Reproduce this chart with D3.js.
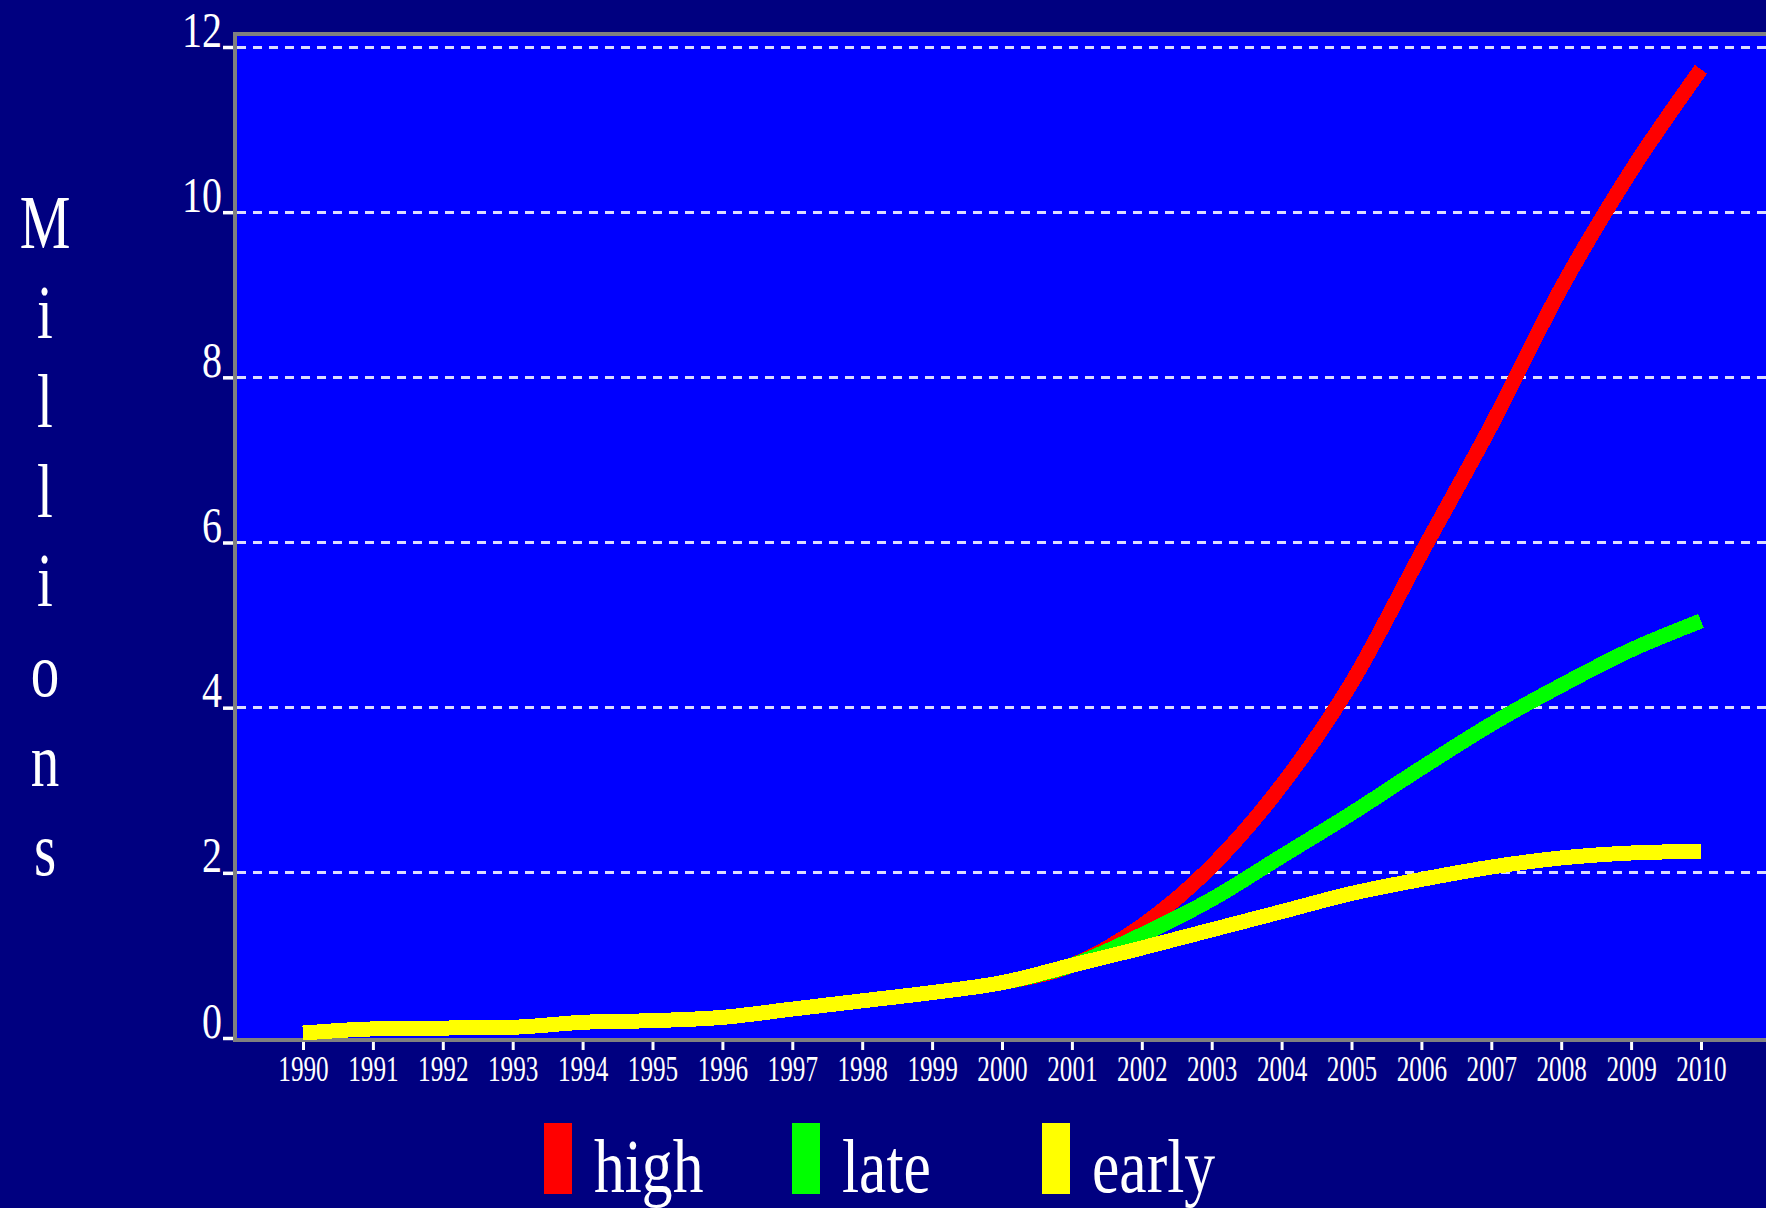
<!DOCTYPE html>
<html>
<head>
<meta charset="utf-8">
<script src="https://cdn.jsdelivr.net/npm/d3@7"></script>
<style>
  html, body { margin: 0; padding: 0; background: #000080; }
  svg { display: block; }
  text { font-family: "Liberation Serif", "Times New Roman", serif; fill: #ffffff; }
</style>
</head>
<body>
<svg id="chart" width="1766" height="1208"></svg>
<script>
// Years on the horizontal axis
const years = [1990, 1991, 1992, 1993, 1994, 1995, 1996, 1997, 1998, 1999, 2000,
               2001, 2002, 2003, 2004, 2005, 2006, 2007, 2008, 2009, 2010];

// Scenario values, millions
const high  = [0.06, 0.11, 0.12, 0.13, 0.19, 0.21, 0.25, 0.35, 0.45, 0.55, 0.67,
               0.88, 1.36, 2.08, 3.06, 4.30, 5.87, 7.42, 9.08, 10.50, 11.73];
const late  = [0.06, 0.11, 0.12, 0.13, 0.19, 0.21, 0.25, 0.35, 0.45, 0.55, 0.67,
               0.88, 1.25, 1.68, 2.20, 2.72, 3.27, 3.80, 4.27, 4.70, 5.05];
const early = [0.06, 0.11, 0.12, 0.13, 0.19, 0.21, 0.25, 0.35, 0.45, 0.55, 0.67,
               0.88, 1.09, 1.31, 1.53, 1.75, 1.92, 2.07, 2.18, 2.24, 2.26];

// Vertical axis ticks
const yTicks = [0, 2, 4, 6, 8, 10, 12];

// Series names and colours (drawn in this order, last on top)
const seriesNames  = ["high", "late", "early"];
const seriesColors = ["#ff0000", "#00ff00", "#ffff00"];
const seriesValues = [high, late, early];

const yTitle = "Millions";

const svg = d3.select("#chart");
const W = 1766, H = 1208;

// Plot frame geometry
const plot = { left: 235, top: 34, right: W, bottom: 1040 };

const x = d3.scaleLinear().domain([1990, 2010]).range([303, 1701]);
const y = d3.scaleLinear().domain([0, 12]).range([1038, 47]);

// Background
svg.append("rect").attr("width", W).attr("height", H).attr("fill", "#000080");
svg.append("rect")
  .attr("x", plot.left).attr("y", plot.top)
  .attr("width", plot.right - plot.left).attr("height", plot.bottom - plot.top)
  .attr("fill", "#0000ff");

// Dashed horizontal gridlines
svg.append("g")
  .selectAll("line")
  .data(yTicks.filter(d => d > 0))
  .join("line")
  .attr("x1", plot.left + 2).attr("x2", plot.right)
  .attr("y1", d => y(d)).attr("y2", d => y(d))
  .attr("stroke", "#dcdcff")
  .attr("stroke-width", 3)
  .attr("stroke-dasharray", "9,7")
  .attr("shape-rendering", "crispEdges");

// Frame: top, left and bottom edges in grey
const frame = svg.append("g").attr("fill", "none").attr("stroke", "#808080").attr("stroke-width", 4);
frame.append("line").attr("x1", plot.left - 2).attr("x2", plot.right).attr("y1", plot.top).attr("y2", plot.top);
frame.append("line").attr("x1", plot.left).attr("x2", plot.left).attr("y1", plot.top - 2).attr("y2", plot.bottom + 2);
frame.append("line").attr("x1", plot.left - 2).attr("x2", plot.right).attr("y1", plot.bottom).attr("y2", plot.bottom);

// X axis: ticks and year labels
const xAxis = svg.append("g")
  .attr("transform", `translate(0,${plot.bottom + 2})`)
  .call(d3.axisBottom(x).tickValues(years).tickSize(8).tickFormat(d3.format("d")));
xAxis.select(".domain").remove();
xAxis.selectAll(".tick line").attr("stroke", "#ffffff").attr("stroke-width", 3);
xAxis.selectAll(".tick text")
  .attr("y", 0).attr("dy", 0)
  .attr("fill", "#ffffff")
  .attr("font-size", 35)
  .attr("transform", "translate(0,39) scale(0.72,1)");

// Y axis: ticks and labels
const yAxis = svg.append("g")
  .attr("transform", `translate(${plot.left - 2},0)`)
  .call(d3.axisLeft(y).tickValues(yTicks).tickSize(10).tickFormat(d3.format("d")));
yAxis.select(".domain").remove();
yAxis.selectAll(".tick line").attr("stroke", "#ffffff").attr("stroke-width", 3.5);
yAxis.selectAll(".tick text")
  .attr("x", 0).attr("dy", 0).attr("y", 0)
  .attr("fill", "#ffffff")
  .attr("font-size", 50)
  .attr("text-anchor", "end")
  .attr("transform", "translate(-11,-1) scale(0.8,1)");

// Y axis title, letters stacked vertically
svg.append("g")
  .selectAll("text")
  .data(yTitle.split(""))
  .join("text")
  .attr("text-anchor", "middle")
  .attr("font-size", 76)
  .attr("transform", (d, i) => `translate(45,${248 + i * 89.6}) scale(0.75,1)`)
  .text(d => d);

// Series lines
const line = d3.line()
  .x((d, i) => x(years[i]))
  .y(d => y(d))
  .curve(d3.curveMonotoneX);

svg.append("g")
  .selectAll("path")
  .data(seriesValues)
  .join("path")
  .attr("d", d => line(d))
  .attr("fill", "none")
  .attr("stroke", (d, i) => seriesColors[i])
  .attr("stroke-width", 15)
  .attr("stroke-linecap", "butt")
  .attr("stroke-linejoin", "round")
  .attr("shape-rendering", "crispEdges");

// Legend
const legendX = [544, 792, 1042];
const legend = svg.append("g")
  .selectAll("g")
  .data(seriesNames)
  .join("g")
  .attr("transform", (d, i) => `translate(${legendX[i]},1123)`);
legend.append("rect")
  .attr("width", 28).attr("height", 71)
  .attr("fill", (d, i) => seriesColors[i]);
legend.append("text")
  .attr("font-size", 76)
  .attr("transform", "translate(50,69) scale(0.81,1)")
  .text(d => d);
</script>
</body>
</html>
